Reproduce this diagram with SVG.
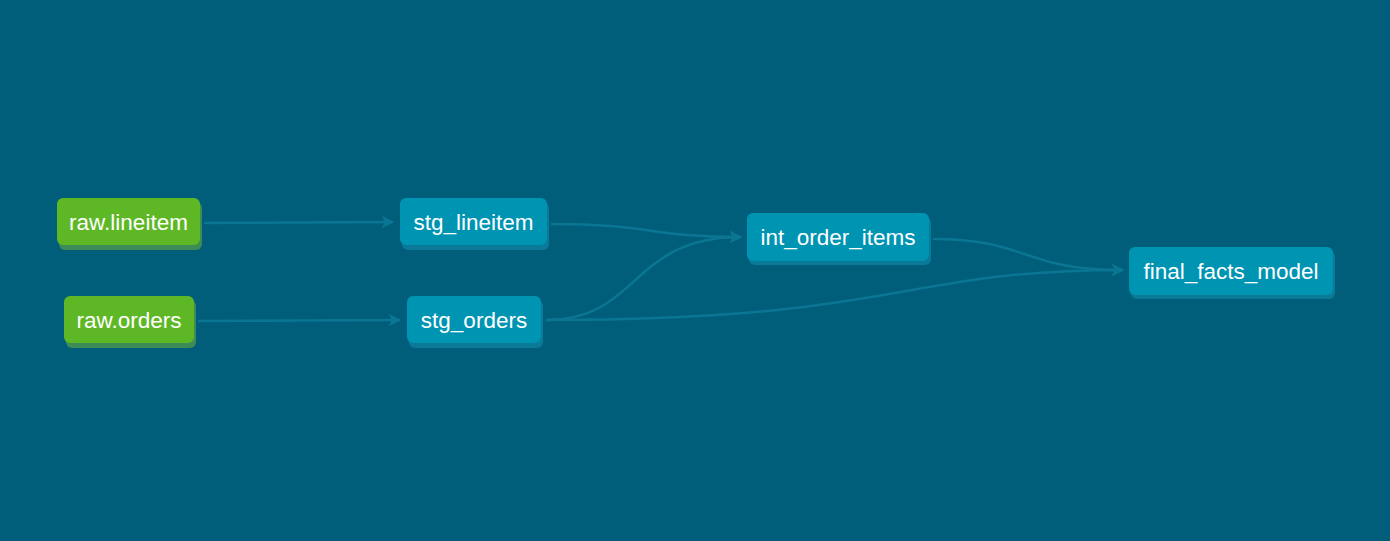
<svg xmlns="http://www.w3.org/2000/svg" width="1390" height="541" viewBox="0 0 1390 541">
<defs>
<style>
.bg{fill:#005e7a}
.src{fill:#5eb826}
.srcs{fill:#3d8b56}
.mdl{fill:#0094b3}
.mdls{fill:#0a7a98}
.lbl{font-family:"Liberation Sans",Arial,sans-serif;font-size:22.5px;fill:#ffffff;text-anchor:middle}
.edge{fill:none;stroke:#0b7694;stroke-width:2.5}
</style>
<marker id="arr" viewBox="0 0 10 10" refX="9" refY="5" markerWidth="5" markerHeight="5" orient="auto" markerUnits="strokeWidth">
<path d="M0,0 L10,5 L0,10 L2.5,5 Z" fill="#0b7694"/>
</marker>
</defs>
<rect class="bg" x="0" y="0" width="1390" height="541"/>
<g id="edges">
<path class="edge" d="M204,223 C300,223 300,222 393,222" marker-end="url(#arr)"/>
<path class="edge" d="M198,321 C300,321 300,320 400,320" marker-end="url(#arr)"/>
<path class="edge" d="M551,224 C650,224 650,237 741,237" marker-end="url(#arr)"/>
<path class="edge" d="M546,320 C640,320 630,237 741,237" marker-end="url(#arr)"/>
<path class="edge" d="M933,239 C1030,239 1020,270 1123,270" marker-end="url(#arr)"/>
<path class="edge" d="M546,320 C900,320 900,270 1123,270" marker-end="url(#arr)"/>
</g>
<g id="raw_lineitem">
<rect class="srcs" x="59" y="202" width="143" height="48" rx="6"/>
<rect class="src" x="57" y="198" width="143" height="47" rx="6"/>
<text class="lbl" x="128.5" y="229.5">raw.lineitem</text>
</g>
<g id="raw_orders">
<rect class="srcs" x="66" y="300" width="130" height="48" rx="6"/>
<rect class="src" x="64" y="296" width="130" height="47" rx="6"/>
<text class="lbl" x="129" y="327.5">raw.orders</text>
</g>
<g id="stg_lineitem">
<rect class="mdls" x="402" y="202" width="147" height="48" rx="6"/>
<rect class="mdl" x="400" y="198" width="147" height="47" rx="6"/>
<text class="lbl" x="473.5" y="229.5">stg_lineitem</text>
</g>
<g id="stg_orders">
<rect class="mdls" x="409" y="300" width="134" height="48" rx="6"/>
<rect class="mdl" x="407" y="296" width="134" height="47" rx="6"/>
<text class="lbl" x="474" y="327.5">stg_orders</text>
</g>
<g id="int_order_items">
<rect class="mdls" x="749" y="217" width="182" height="48" rx="6"/>
<rect class="mdl" x="747" y="213" width="182" height="48" rx="6"/>
<text class="lbl" x="838" y="244.5">int_order_items</text>
</g>
<g id="final_facts_model">
<rect class="mdls" x="1131" y="251" width="204" height="48" rx="6"/>
<rect class="mdl" x="1129" y="247" width="204" height="48" rx="6"/>
<text class="lbl" x="1231" y="278.5">final_facts_model</text>
</g>
</svg>
